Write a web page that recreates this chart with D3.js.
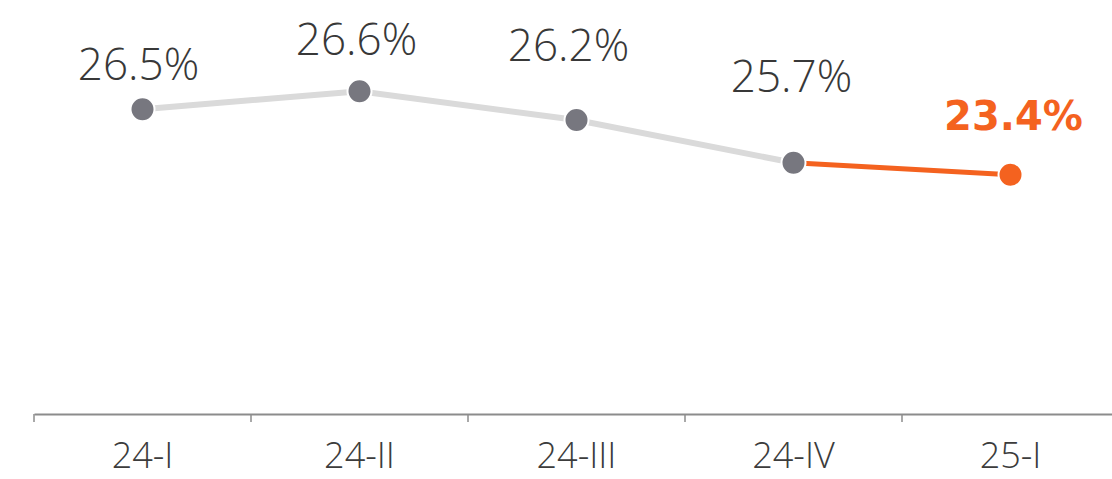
<!DOCTYPE html>
<html>
<head>
<meta charset="utf-8">
<script src="https://cdn.jsdelivr.net/npm/d3@7"></script>
<style>
  html, body { margin: 0; padding: 0; background: #fff; }
  svg { display: block; }
</style>
</head>
<body>
<svg id="chart" width="1112" height="479"></svg>
<script>
// ---- data ----
const categories = ["24-I", "24-II", "24-III", "24-IV", "25-I"];
const values = [26.5, 26.6, 26.2, 25.7, 23.4];            // labelled values (%)
const plotLevel = [76.2, 80.7, 73.5, 62.8, 59.8];          // drawn height of each point (0-100 of plot area)
const highlightIndex = 4;                                   // latest quarter, highlighted

// ---- layout / style (not data) ----
const W = 1112, H = 479;
const axisY = 414;
const labelDy = [-29, -36, -59, -71, -45];
const labelDx = [-4, -3, -8, -2, 3];
const grey = "#77777f", lineGrey = "#dadada", orange = "#f4621f";

const svg = d3.select("#chart");

const x = d3.scaleBand().domain(categories).range([34, 34 + 217 * 5]).padding(0);
const y = d3.scaleLinear().domain([0, 100]).range([axisY, axisY - 400]);

// axis
const axis = d3.axisBottom(x).tickSize(0).tickPadding(0).tickFormat(d => d);
const gAxis = svg.append("g").attr("transform", `translate(0,${axisY})`).call(axis);
gAxis.select(".domain").attr("stroke", "#8c8c8c").attr("stroke-width", 2);
gAxis.selectAll(".tick line").remove();
gAxis.selectAll(".tick text")
  .attr("y", 54)
  .attr("dy", 0)
  .attr("fill", "#3c3c3c")
  .style("font-family", "'Open Sans', sans-serif")
  .style("font-weight", 300)
  .style("font-size", "36px");
// boundary ticks between bands
const boundaries = categories.map(c => x(c)).concat([x(categories[categories.length - 1]) + x.bandwidth()]);
gAxis.selectAll(".bound").data(boundaries).enter().append("line")
  .attr("class", "bound")
  .attr("x1", d => d).attr("x2", d => d)
  .attr("y1", 0).attr("y2", 8)
  .attr("stroke", "#8c8c8c").attr("stroke-width", 1.5);

const pts = categories.map((c, i) => ({
  c, v: values[i], px: x(c) + x.bandwidth() / 2, py: y(plotLevel[i]), i
}));

const line = d3.line().x(d => d.px).y(d => d.py);

svg.append("path")
  .datum(pts.slice(0, highlightIndex))
  .attr("d", line)
  .attr("fill", "none")
  .attr("stroke", lineGrey)
  .attr("stroke-width", 6)
  .attr("stroke-linecap", "round");

svg.append("path")
  .datum(pts.slice(highlightIndex - 1))
  .attr("d", line)
  .attr("fill", "none")
  .attr("stroke", orange)
  .attr("stroke-width", 5);

svg.selectAll(".dot").data(pts).enter().append("circle")
  .attr("class", "dot")
  .attr("cx", d => d.px)
  .attr("cy", d => d.py)
  .attr("r", 12)
  .attr("fill", d => d.i === highlightIndex ? orange : grey)
  .attr("stroke", "#fff")
  .attr("stroke-width", 2);

svg.selectAll(".vlabel").data(pts).enter().append("text")
  .attr("class", "vlabel")
  .attr("x", d => d.px + labelDx[d.i])
  .attr("y", d => d.py + labelDy[d.i])
  .attr("text-anchor", "middle")
  .attr("fill", d => d.i === highlightIndex ? orange : "#383838")
  .style("font-family", d => d.i === highlightIndex ? "'DejaVu Sans', sans-serif" : "'Open Sans', sans-serif")
  .style("font-weight", d => d.i === highlightIndex ? 700 : 300)
  .style("font-size", d => d.i === highlightIndex ? "40px" : "44px")
  .text(d => d3.format(".1f")(d.v) + "%");
</script>
</body>
</html>
